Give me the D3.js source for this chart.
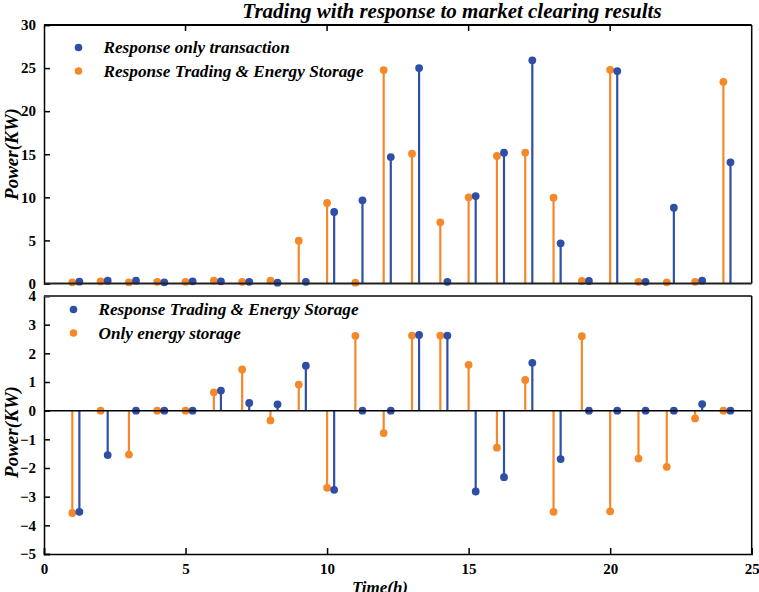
<!DOCTYPE html>
<html>
<head>
<meta charset="utf-8">
<script src="https://cdn.jsdelivr.net/npm/d3@7"></script>
<style>
  body { margin: 0; background: #fff; }
  svg { display: block; }
  text { font-family: "Liberation Serif", "Times New Roman", serif; font-weight: bold; }
</style>
</head>
<body>
<div id="chart"></div>
<script>
// hours 1..24
const hours = d3.range(1, 25);

// top panel (kW)
const respOnly = [0.21, 0.33, 0.33, 0.14, 0.25, 0.25, 0.2, 0.1, 0.2, 8.3, 9.65, 14.67,
  25.0, 0.2, 10.15, 15.18, 25.9, 4.66, 0.29, 24.65, 0.2, 8.8, 0.33, 14.06];
const respStorageTop = [0.14, 0.25, 0.14, 0.2, 0.2, 0.33, 0.2, 0.33, 4.97, 9.34, 0.1, 24.77,
  15.06, 7.1, 10.0, 14.8, 15.2, 9.96, 0.29, 24.8, 0.2, 0.14, 0.2, 23.4];

// bottom panel (kW)
const respStorageBot = [-3.53, -1.55, 0, 0, 0, 0.7, 0.27, 0.22, 1.57, -2.76, 0, 0,
  2.64, 2.62, -2.82, -2.32, 1.67, -1.69, 0, 0, 0, 0, 0.23, 0];
const onlyStorage = [-3.57, 0, -1.53, 0, 0, 0.64, 1.44, -0.34, 0.91, -2.69, 2.61, -0.78,
  2.62, 2.62, 1.6, -1.29, 1.07, -3.53, 2.6, -3.51, -1.67, -1.96, -0.27, 0];

const topTicks = [0, 5, 10, 15, 20, 25, 30];
const botTicks = [-5, -4, -3, -2, -1, 0, 1, 2, 3, 4];
const xTicks = [0, 5, 10, 15, 20, 25];

const blue = "#2f4ea6", orange = "#f5892a";
const width = 759, height = 592;

const svg = d3.select("#chart").append("svg")
  .attr("width", width).attr("height", height);

const x = d3.scaleLinear().domain([0, 25]).range([44, 751.7]);
const yTop = d3.scaleLinear().domain([0, 30]).range([283.5, 25]);
const yBot = d3.scaleLinear().domain([-5, 4]).range([554, 296]);

function stems(y, data, offset, color) {
  const g = svg.append("g");
  const pts = hours.map((h, i) => ({ h: h + offset, v: data[i] }));
  g.selectAll("line").data(pts).enter().append("line")
    .attr("x1", d => x(d.h)).attr("x2", d => x(d.h))
    .attr("y1", y(0)).attr("y2", d => y(d.v))
    .attr("stroke", color).attr("stroke-width", 2.2);
  g.selectAll("circle").data(pts).enter().append("circle")
    .attr("cx", d => x(d.h)).attr("cy", d => y(d.v))
    .attr("r", 3.9).attr("fill", color);
}

function frame(y, ticks, topTicksOn, borderColor) {
  const [y0, y1] = y.range();
  // left axis
  const ax = svg.append("g").attr("transform", `translate(${x(0)},0)`)
    .call(d3.axisLeft(y).tickValues(ticks).tickFormat(d3.format("d")).tickSize(-6).tickPadding(8));
  ax.select(".domain").attr("stroke", "#000").attr("stroke-width", 1.5);
  ax.selectAll(".tick line").attr("stroke", "#000").attr("stroke-width", 1.5);
  ax.selectAll("text").attr("font-size", 15).attr("fill", "#000")
    .attr("font-family", "Liberation Serif, serif").attr("font-weight", "bold");
  // top border
  svg.append("line").attr("x1", x(0)).attr("x2", x(25)).attr("y1", y1).attr("y2", y1)
    .attr("stroke", borderColor).attr("stroke-width", 2);
  // right border
  svg.append("line").attr("x1", x(25)).attr("x2", x(25)).attr("y1", y0).attr("y2", y1)
    .attr("stroke", "#000").attr("stroke-width", 1.5);
  if (topTicksOn) {
    svg.append("g").selectAll("line").data([5, 10, 15, 20]).enter().append("line")
      .attr("x1", d => x(d)).attr("x2", d => x(d))
      .attr("y1", y1).attr("y2", y1 + 6)
      .attr("stroke", "#000").attr("stroke-width", 1.5);
  }
}

// top panel
frame(yTop, topTicks, true, "#000");
stems(yTop, respStorageTop, 0, orange);
stems(yTop, respOnly, 0.25, blue);
svg.append("line").attr("x1", x(0)).attr("x2", x(25)).attr("y1", yTop(0)).attr("y2", yTop(0))
  .attr("stroke", "#222").attr("stroke-width", 2);

// bottom panel
frame(yBot, botTicks, false, "#444");
stems(yBot, onlyStorage, 0, orange);
stems(yBot, respStorageBot, 0.25, blue);
svg.append("line").attr("x1", x(0)).attr("x2", x(25)).attr("y1", yBot(0)).attr("y2", yBot(0))
  .attr("stroke", "#000").attr("stroke-width", 1.5);

const xb = svg.append("g").attr("transform", `translate(0,${yBot(-5)})`)
  .call(d3.axisBottom(x).tickValues(xTicks).tickFormat(d3.format("d")).tickSize(-6).tickPadding(9));
xb.select(".domain").attr("stroke", "#000").attr("stroke-width", 1.5);
xb.selectAll(".tick line").attr("stroke", "#000").attr("stroke-width", 1.5);
xb.selectAll("text").attr("font-size", 15).attr("fill", "#000")
  .attr("font-family", "Liberation Serif, serif").attr("font-weight", "bold");

// title & labels
svg.append("text").attr("x", 452).attr("y", 18).attr("text-anchor", "middle")
  .attr("font-size", 21).attr("font-style", "italic")
  .text("Trading with response to market clearing results");

svg.append("text").attr("transform", "translate(18,154) rotate(-90)")
  .attr("text-anchor", "middle").attr("font-size", 19).attr("font-style", "italic")
  .text("Power(KW)");
svg.append("text").attr("transform", "translate(18,432) rotate(-90)")
  .attr("text-anchor", "middle").attr("font-size", 19).attr("font-style", "italic")
  .text("Power(KW)");
svg.append("text").attr("x", 380).attr("y", 593).attr("text-anchor", "middle")
  .attr("font-size", 17).attr("font-style", "italic").text("Time(h)");

// legends
function legend(items, lx, ly) {
  items.forEach((it, i) => {
    svg.append("circle").attr("cx", lx).attr("cy", ly + i * 23.5).attr("r", 3.8).attr("fill", it[1]);
    svg.append("text").attr("x", lx + 25).attr("y", ly + i * 23.5 + 5.5)
      .attr("font-size", 17.2).attr("font-style", "italic").text(it[0]);
  });
}
legend([["Response only transaction", blue], ["Response Trading & Energy Storage", orange]], 78.5, 47.5);
legend([["Response Trading & Energy Storage", blue], ["Only energy storage", orange]], 73.5, 309.5);
</script>
</body>
</html>
